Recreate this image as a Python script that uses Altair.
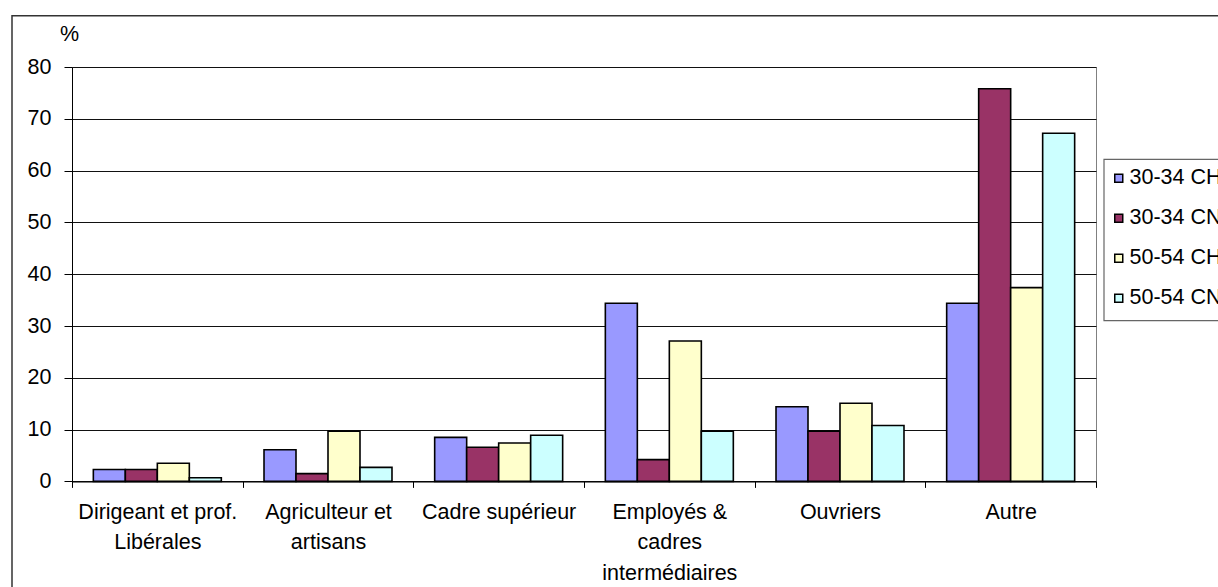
import altair as alt
import pandas as pd

# Socio-professional categories (line breaks as they are printed under the axis)
categories = [
    "Dirigeant et prof.\nLibérales",
    "Agriculteur et\nartisans",
    "Cadre supérieur",
    "Employés &\ncadres\nintermédiaires",
    "Ouvriers",
    "Autre",
]
series = ["30-34 CH", "30-34 CN", "50-54 CH", "50-54 CN"]

# Share of each group, in %
v_30_34_ch = [2.3, 6.1, 8.5, 34.4, 14.4, 34.4]
v_30_34_cn = [2.3, 1.5, 6.6, 4.2, 9.7, 75.8]
v_50_54_ch = [3.5, 9.7, 7.4, 27.1, 15.1, 37.4]
v_50_54_cn = [0.7, 2.7, 8.9, 9.7, 10.8, 67.2]

y_ticks = [0, 10, 20, 30, 40, 50, 60, 70, 80]
colors = ["#9999FF", "#993366", "#FFFFCC", "#CCFFFF"]

rows = []
for name, vals in zip(series, [v_30_34_ch, v_30_34_cn, v_50_54_ch, v_50_54_cn]):
    for cat, v in zip(categories, vals):
        rows.append({"categorie": cat, "serie": name, "valeur": v})
df = pd.DataFrame(rows)

FONT = "Liberation Sans"
FS = 21.5
W, H = 1024, 414.4

bars = alt.Chart(df).mark_bar(stroke="black", strokeWidth=1.6).encode(
    x=alt.X(
        "categorie:N",
        sort=categories,
        scale=alt.Scale(paddingInner=0, paddingOuter=0),
        axis=alt.Axis(
            title=None,
            labelExpr="split(datum.label, '\\n')",
            labelAngle=0,
            labelFontSize=FS,
            labelColor="black",
            labelLineHeight=30.5,
            labelPadding=14,
            labelLimit=400,
            labelOverlap=False,
            tickBand="extent",
            tickSize=6,
            tickColor="black",
            domainColor="black",
            domainWidth=1,
            grid=False,
        ),
    ),
    xOffset=alt.XOffset(
        "serie:N", sort=series,
        scale=alt.Scale(paddingInner=0, paddingOuter=0.667),
    ),
    y=alt.Y(
        "valeur:Q",
        scale=alt.Scale(domain=[0, 80], nice=False, zero=True),
        axis=alt.Axis(
            values=y_ticks,
            title="%",
            titleAngle=0,
            titleX=-3,
            titleY=-33,
            titleAlign="center",
            titleBaseline="middle",
            titleFontSize=FS,
            titleFontWeight="normal",
            titleColor="black",
            labelFontSize=FS,
            labelColor="black",
            labelPadding=13,
            tickSize=8,
            tickColor="black",
            domainColor="black",
            domainWidth=1,
            gridColor="#111111",
            gridWidth=1,
        ),
    ),
    color=alt.Color(
        "serie:N",
        sort=series,
        scale=alt.Scale(domain=series, range=colors),
        legend=alt.Legend(
            title=None,
            orient="none",
            legendX=1036,
            legendY=100.5,
            direction="vertical",
            symbolType="square",
            symbolSize=64,
            symbolStrokeColor="black",
            symbolStrokeWidth=1.5,
            labelFontSize=FS,
            labelColor="black",
            labelOffset=0,
            labelLimit=400,
            rowPadding=17,
            padding=0,
        ),
    ),
)

# Box behind the legend entries
legend_box = alt.Chart(alt.Data(values=[{}])).mark_rect(
    fill="white", stroke="#666666", strokeWidth=1.2
).encode(
    x=alt.value(1032), x2=alt.value(W + 300),
    y=alt.value(92.3), y2=alt.value(253.7),
)

# Outer frame around the whole figure
frame = alt.Chart(alt.Data(values=[{}])).mark_rect(
    fill="transparent", stroke="#333333", strokeWidth=1.5
).encode(
    x=alt.value(-60), x2=alt.value(W + 300),
    y=alt.value(-51.3), y2=alt.value(H + 300),
)

chart = alt.layer(frame, legend_box, bars).properties(
    width=W,
    height=H,
    autosize=alt.AutoSizeParams(type="none"),
    padding={"left": 72, "top": 67, "right": 122, "bottom": 105.6},
    background="white",
).configure(
    font=FONT,
).configure_view(
    stroke="#808080",
    strokeWidth=1,
)

chart.save("out.html", embed_options={"renderer": "svg", "actions": False})
